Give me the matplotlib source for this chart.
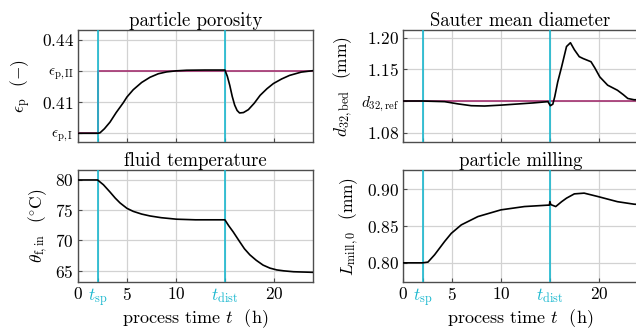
import numpy as np
import matplotlib
matplotlib.use('Agg')
import matplotlib.pyplot as plt

plt.rcParams['font.family'] = 'serif'
plt.rcParams['font.serif'] = ['cmr10', 'DejaVu Serif']
plt.rcParams['mathtext.fontset'] = 'cm'
plt.rcParams['axes.formatter.use_mathtext'] = True
plt.rcParams['font.size'] = 12.5

# event times (h)
t_sp = 2.0
t_dist = 15.0

# particle porosity
eps_I = 0.395
eps_II = 0.425
t_eps = [0, 2.0, 2.24, 2.7, 3.27, 3.9, 4.62, 5.0, 5.64, 6.5, 7.35, 8.2, 9.05, 10.0, 11.1, 13.0, 15.0,
         15.25, 15.5, 15.75, 16.0, 16.25, 16.5, 16.9, 17.4, 18.0, 18.6, 19.3, 19.96, 20.8, 21.6, 22.8, 24.0]
eps_p = [0.395, 0.395, 0.3952, 0.3972, 0.4004, 0.4050, 0.4097, 0.4125, 0.4160, 0.4195, 0.4220, 0.4237, 0.4246,
         0.4251, 0.4254, 0.4255, 0.4255, 0.4225, 0.4181, 0.4128, 0.4086, 0.4060, 0.4048, 0.4050, 0.4064, 0.4095,
         0.4133, 0.4165, 0.4190, 0.4212, 0.4229, 0.4245, 0.4252]
t_eps_set = [0, t_sp, t_sp, 24.0]
eps_set = [eps_I, eps_I, eps_II, eps_II]

# Sauter mean diameter
d32_ref = 1.10
t_d32 = [0, 2.0, 4.25, 5.6, 6.97, 8.33, 10.0, 11.7, 13.3, 14.8, 15.05, 15.3, 15.5, 15.8, 16.2, 16.7, 17.1,
         17.5, 18.0, 18.4, 19.2, 19.6, 20.1, 20.9, 21.9, 22.5, 22.96, 23.6, 24.0]
d32 = [1.100, 1.100, 1.099, 1.0955, 1.0926, 1.0921, 1.0935, 1.0953, 1.0970, 1.0990, 1.0926, 1.0950, 1.1070,
       1.1300, 1.1540, 1.1860, 1.1920, 1.1810, 1.1700, 1.1670, 1.1620, 1.1520, 1.1380, 1.1250, 1.1170, 1.1100,
       1.1040, 1.1020, 1.1020]

# fluid temperature
t_th = [0, 2.0, 2.6, 3.27, 3.8, 4.29, 5.0, 5.64, 6.5, 7.35, 8.5, 10.07, 12.0, 15.0, 15.4, 15.85, 16.5, 17.0,
        17.55, 18.2, 18.9, 19.6, 20.3, 21.0, 22.0, 24.0]
theta = [80.0, 80.0, 79.2, 78.0, 77.0, 76.2, 75.3, 74.8, 74.35, 74.04, 73.75, 73.5, 73.4, 73.4, 72.4, 71.4,
         69.8, 68.6, 67.6, 66.7, 65.9, 65.4, 65.1, 64.95, 64.8, 64.7]

# particle milling
t_L = [0, 2.0, 2.55, 3.23, 4.25, 4.93, 5.95, 7.65, 10.0, 12.4, 14.8, 14.95, 15.0, 15.1, 15.6, 16.2, 16.7,
       17.5, 18.5, 19.9, 21.9, 23.6, 24.0]
L_mill = [0.800, 0.800, 0.801, 0.811, 0.829, 0.840, 0.8515, 0.8628, 0.8719, 0.8764, 0.8783, 0.8783, 0.8830,
          0.8790, 0.8764, 0.8830, 0.8878, 0.8936, 0.8946, 0.8900, 0.8830, 0.8796, 0.8793]

cyan = '#1ab8cf'
purple = '#a3306f'
spine_c = '#4d4d4d'

fig = plt.figure(figsize=(6.36, 3.29), dpi=100)
W, H = 636.0, 329.0
axw = 235 / W
axh = 112 / H
ax1 = fig.add_axes([78 / W, 1 - 142 / H, axw, axh])
ax2 = fig.add_axes([403 / W, 1 - 142 / H, axw, axh])
ax3 = fig.add_axes([78 / W, 1 - 282 / H, axw, axh])
ax4 = fig.add_axes([403 / W, 1 - 282 / H, axw, axh])

xticks = [0, t_sp, 5, 10, t_dist, 20]
xlabels = ['$0$', r'$t_{\mathrm{sp}}$', '$5$', '$10$', r'$t_{\mathrm{dist}}$', '$20$']

for ax in [ax1, ax2, ax3, ax4]:
    ax.set_xlim(0, 24)
    ax.set_xticks(xticks)
    ax.grid(True, color='#d2d2d2', lw=0.9)
    ax.set_axisbelow(True)
    for s in ax.spines.values():
        s.set_color(spine_c)
        s.set_linewidth(1.0)
    ax.tick_params(direction='in', length=3, color=spine_c, width=0.8, pad=3)
    ax.axvline(t_sp, color=cyan, lw=1.2, zorder=4)
    ax.axvline(t_dist, color=cyan, lw=1.2, zorder=4)

for ax in [ax1, ax2]:
    ax.set_xticklabels([])
for ax in [ax3, ax4]:
    ax.set_xticklabels(xlabels)
    for lab, txt in zip(ax.get_xticklabels(), xlabels):
        if 't_' in txt:
            lab.set_color(cyan)
    ax.set_xlabel(r'process time $t$  (h)', fontsize=13, labelpad=-1.5)

title_fs = 13.5

# particle porosity
ax1.plot(t_eps_set, eps_set, color=purple, lw=1.2, zorder=3)
ax1.plot(t_eps, eps_p, color='black', lw=1.2, zorder=5)
ax1.set_ylim(0.3908, 0.4448)
ax1.set_yticks([eps_I, 0.41, eps_II, 0.44])
ax1.set_yticklabels([r'$\epsilon_{\mathrm{p,I}}$', '$0.41$', r'$\epsilon_{\mathrm{p,II}}$', '$0.44$'])
for lab in ax1.get_yticklabels():
    if 'epsilon' in lab.get_text():
        lab.set_fontsize(11)
ax1.set_ylabel(r'$\epsilon_{\mathrm{p}}$  $(-)$', fontsize=12.5, labelpad=6)
ax1.set_title('particle porosity', fontsize=title_fs, pad=1)

# Sauter mean diameter
ax2.axhline(d32_ref, color=purple, lw=1.2, zorder=3)
ax2.plot(t_d32, d32, color='black', lw=1.2, zorder=5)
ax2.set_ylim(1.0353, 1.2121)
ax2.set_yticks([1.05, d32_ref, 1.15, 1.20])
ax2.set_yticklabels(['$1.08$', r'$d_{32,\mathrm{ref}}$', '$1.15$', '$1.20$'])
ax2.get_yticklabels()[1].set_fontsize(11)
ax2.set_ylabel(r'$d_{32,\mathrm{bed}}$  (mm)', fontsize=12.5, labelpad=4)
ax2.set_title('Sauter mean diameter', fontsize=title_fs, pad=1)

# fluid temperature
ax3.plot(t_th, theta, color='black', lw=1.2, zorder=5)
ax3.set_ylim(63.1, 81.65)
ax3.set_yticks([65, 70, 75, 80])
ax3.set_yticklabels(['$65$', '$70$', '$75$', '$80$'])
ax3.set_ylabel(r'$\theta_{\mathrm{f,in}}$  $(^{\circ}\mathrm{C})$', fontsize=12.5, labelpad=4)
ax3.set_title('fluid temperature', fontsize=title_fs, pad=1)

# particle milling
ax4.plot(t_L, L_mill, color='black', lw=1.2, zorder=5)
ax4.set_ylim(0.774, 0.926)
ax4.set_yticks([0.80, 0.85, 0.90])
ax4.set_yticklabels(['$0.80$', '$0.85$', '$0.90$'])
ax4.set_ylabel(r'$L_{\mathrm{mill},0}$  (mm)', fontsize=12.5, labelpad=4)
ax4.set_title('particle milling', fontsize=title_fs, pad=1)

fig.savefig('out.png', dpi=100)
